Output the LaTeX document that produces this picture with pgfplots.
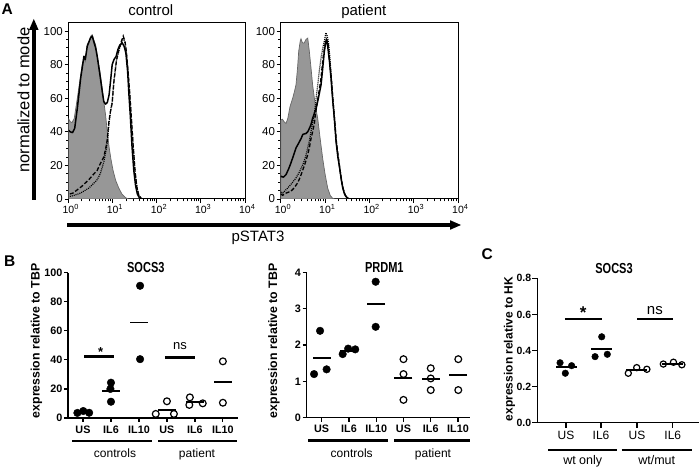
\documentclass[border=0pt]{standalone}
\usepackage{fontspec}
\setmainfont{Liberation Sans}
\newfontfamily\condfont[FakeStretch=0.76]{Liberation Sans}
\usepackage{pgfplots}
\pgfplotsset{compat=1.18}
\definecolor{hgray}{HTML}{979797}
\definecolor{hline}{HTML}{666666}
\newcommand{\fs}[1]{\fontsize{#1}{#1}\selectfont}
\newcommand{\tp}[1]{10\rlap{\textsuperscript{#1}}}
\pgfplotsset{
  histax/.style={scale only axis, anchor=south west, width=176.5pt, height=176pt,
    xmin=0, xmax=4, ymin=0, ymax=104.8,
    axis line style={line width=1pt},
    tick style={black, line width=0.8pt}, tick align=outside, tick pos=left,
    major tick length=4pt, minor tick length=2.5pt,
    xtick={0,1,2,3,4},
    xticklabels={\tp{0},\tp{1},\tp{2},\tp{3},\tp{4}},
    minor xtick={0.301,0.477,0.602,0.699,0.778,0.845,0.903,0.954,
                 1.301,1.477,1.602,1.699,1.778,1.845,1.903,1.954,
                 2.301,2.477,2.602,2.699,2.778,2.845,2.903,2.954,
                 3.301,3.477,3.602,3.699,3.778,3.845,3.903,3.954},
    ytick={0,20,40,60,80,100}, yticklabels={0,20,40,60,80,100},
    minor ytick={5,10,15,25,30,35,45,50,55,65,70,75,85,90,95},
    xticklabel style={font=\fs{10.5}, inner sep=1.5pt},
    yticklabel style={font=\fs{11.5}, inner sep=1.5pt},
  },
  solidh/.style={black, line width=1.5pt, line join=round},
  dashh/.style={black, line width=1.3pt, dash pattern=on 4pt off 2pt},
  doth/.style={black, line width=1.2pt, dash pattern=on 1pt off 1pt},
  grayh/.style={fill=hgray, draw=hline, line width=0.7pt},
  dotax/.style={scale only axis, anchor=south west, axis x line=bottom, axis y line=left,
    axis line style={line width=1.4pt, -}, tick style={black, line width=1.2pt},
    tick align=outside, major tick length=4pt, clip=false,
    yticklabel style={font=\bfseries\fs{10.8}, inner sep=1.5pt},
  },
  fdot/.style={only marks, mark=*, mark size=3.8pt, mark options={fill=black, draw=black, line width=0.4pt}},
  odot/.style={only marks, mark=*, mark size=3.4pt, mark options={fill=white, draw=black, line width=1.2pt}},
  mean/.style={only marks, black, mark=-, mark size=9pt, mark options={line width=1.6pt}},
}
\begin{document}
\begin{tikzpicture}
\path[use as bounding box] (0,0) rectangle (700pt,470pt);

% ---------- Panel A: control ----------
\begin{axis}[histax, at={(68.5pt,271pt)}]
\addplot[grayh] coordinates {(0,48)(0.04,46)(0.08,45.5)(0.13,48)(0.2,60)(0.276,74)(0.31,80)(0.35,84)(0.38,82)(0.425,92)(0.47,94)(0.5,96.8)(0.538,97.8)(0.57,95)(0.615,91.8)(0.65,86)(0.712,76)(0.765,66)(0.80,58)(0.84,50)(0.88,40)(0.92,31)(0.96,24)(1.01,17)(1.07,11)(1.14,6.5)(1.21,3)(1.29,0.8)(1.36,0)(4,0)} \closedcycle;
\addplot[doth] coordinates {(0.03,1.5)(0.1,2)(0.2,2.8)(0.28,3.6)(0.46,6.5)(0.56,9)(0.65,11.5)(0.72,15)(0.80,22)(0.85,29)(0.88,34)(0.915,44)(0.95,52)(0.99,58)(1.03,71)(1.09,83)(1.16,90)(1.2,93)(1.24,96)(1.28,93)(1.31,88)(1.35,76)(1.39,62)(1.43,46)(1.47,30)(1.51,16)(1.55,7)(1.59,2.5)(1.64,0.5)(1.68,0)(4,0)};
\addplot[dashh] coordinates {(0.03,3)(0.1,3.5)(0.2,5.5)(0.3,7.5)(0.46,11.5)(0.56,14.5)(0.65,17)(0.72,21)(0.80,25)(0.85,31)(0.877,35)(0.915,46)(0.95,52)(0.99,57)(1.03,70)(1.09,83)(1.16,90.7)(1.2,94)(1.24,97)(1.28,94)(1.31,88)(1.35,76)(1.39,62)(1.43,46)(1.47,30)(1.51,16)(1.55,7)(1.59,2.5)(1.64,0.5)(1.68,0)(4,0)};
\addplot[solidh] coordinates {(0,41)(0.04,40)(0.09,39.5)(0.14,42)(0.2,54)(0.276,72)(0.31,78)(0.35,85)(0.38,83)(0.425,91)(0.47,94)(0.5,96)(0.538,97)(0.57,94)(0.615,90)(0.65,85)(0.712,74)(0.765,64)(0.80,58)(0.84,56.5)(0.88,57.5)(0.92,62)(0.96,72)(0.99,80)(1.03,83)(1.08,85)(1.12,89)(1.16,91.5)(1.216,93)(1.26,91)(1.30,87)(1.34,76)(1.37,62)(1.40,50)(1.44,31)(1.48,17)(1.52,8)(1.56,3)(1.60,1)(1.64,0)(4,0)};
\end{axis}

% ---------- Panel A: patient ----------
\begin{axis}[histax, at={(280.7pt,271pt)}, width=177.3pt]
\addplot[grayh] coordinates {(0,47)(0.04,47.5)(0.075,46)(0.12,45)(0.16,48)(0.21,55)(0.27,60)(0.31,64)(0.345,68)(0.38,78)(0.406,88)(0.44,94)(0.458,95.4)(0.49,93)(0.53,92.9)(0.57,95)(0.61,95.8)(0.646,88)(0.684,78)(0.72,68)(0.78,56)(0.835,48)(0.89,36)(0.948,24)(1.0,15)(1.06,6.5)(1.12,2)(1.17,0.5)(1.22,0)(4,0)} \closedcycle;
\addplot[doth] coordinates {(0,4)(0.045,3.6)(0.1,5)(0.195,7.6)(0.27,10)(0.345,12.5)(0.42,16)(0.5,20.4)(0.56,25)(0.61,30.4)(0.65,35)(0.684,40.3)(0.72,45)(0.76,51)(0.8,60)(0.835,68)(0.87,76)(0.91,84)(0.95,90)(0.985,94)(1.02,99)(1.05,97)(1.08,93)(1.11,84)(1.135,74)(1.17,62)(1.21,49)(1.25,35)(1.29,26)(1.33,18)(1.37,11)(1.41,6)(1.45,2.5)(1.49,1)(1.53,0)(4,0)};
\addplot[dashh] coordinates {(0,3)(0.045,2.2)(0.12,3.5)(0.23,4.6)(0.3,6.5)(0.38,9.5)(0.44,13)(0.5,17.4)(0.56,22)(0.61,26.4)(0.65,31)(0.684,36)(0.72,40)(0.76,45)(0.78,50)(0.84,60)(0.9,70)(0.96,85)(1.0,92)(1.03,95)(1.07,92)(1.1,83)(1.14,73)(1.18,58)(1.22,46)(1.26,33)(1.3,25)(1.34,17)(1.38,10)(1.42,5)(1.46,2)(1.5,0.7)(1.55,0)(4,0)};
\addplot[solidh] coordinates {(0,13)(0.01,13.5)(0.06,13)(0.12,14.5)(0.18,18)(0.23,21.4)(0.29,26)(0.345,30.4)(0.4,33)(0.46,36)(0.5,38.5)(0.57,39)(0.61,40)(0.646,42)(0.68,44)(0.72,48)(0.76,51)(0.8,54)(0.85,60)(0.91,68)(0.948,78)(0.985,88)(1.02,94)(1.04,95)(1.06,91)(1.1,82)(1.135,72)(1.17,60)(1.21,48)(1.25,34)(1.29,25)(1.33,18.5)(1.37,11)(1.4,6.5)(1.44,3)(1.47,1.6)(1.51,0.5)(1.55,0)(4,0)};
\end{axis}

% A decorations
\node[font=\bfseries\fs{15.5}, anchor=base west, inner sep=0] at (1.5pt,455pt) {A};
\node[font=\fs{15}, anchor=base, inner sep=0] at (150.8pt,454pt) {control};
\node[font=\fs{15}, anchor=base, inner sep=0] at (363.8pt,454pt) {patient};
\node[font=\fs{16.5}, rotate=90, anchor=base, inner sep=0] at (29.3pt,370pt) {normalized to mode};
\node[font=\fs{15}, anchor=base, inner sep=0] at (258pt,228pt) {pSTAT3};
\draw[line width=3.5pt] (67pt,245pt) -- (451pt,245pt);
\fill (450pt,249.8pt) -- (461pt,245pt) -- (450pt,240.2pt) -- cycle;
\draw[line width=3.5pt] (33.8pt,270pt) -- (33.8pt,441pt);
\fill (29pt,440pt) -- (33.8pt,451pt) -- (38.6pt,440pt) -- cycle;

% ---------- Panel B: SOCS3 ----------
\begin{axis}[dotax, at={(68pt,52pt)}, width=170pt, height=145.3pt,
  xmin=0.464, xmax=6.54, ymin=0, ymax=100,
  xtick={1,...,6}, xticklabels={US,IL6,IL10,US,IL6,IL10},
  xticklabel style={font=\bfseries\fs{10.8}},
  ytick={0,20,40,60,80,100}, yticklabels={0,20,40,60,80,100}]
\addplot[fdot] coordinates {(0.8,3.5)(1.01,4.8)(1.22,3.6)(2.0,24.3)(1.98,20)(2.0,11.2)(3.04,91)(3.04,40.5)};
\addplot[odot] coordinates {(3.6,2.8)(4.0,11.5)(4.25,2.8)(4.82,14.2)(4.8,9)(5.28,10.1)(6.0,39)(6.0,10.5)};
\addplot[mean] coordinates {(1,4)(2,18.5)(3,65.7)(4,5.7)(5,11.1)(6,24.7)};
\addplot[black, line width=3pt] coordinates {(1.05,42)(2.12,42)};
\addplot[black, line width=3pt] coordinates {(3.93,41.5)(5.0,41.5)};
\node[font=\bfseries\fs{13}, anchor=base, inner sep=0] at (1.63,42.4) {*};
\node[font=\fs{13}, anchor=base, inner sep=0] at (4.47,47.3) {ns};
\end{axis}

% ---------- Panel B: PRDM1 ----------
\begin{axis}[dotax, at={(306.7pt,52.3pt)}, width=163.3pt, height=145.4pt,
  xmin=0.45, xmax=6.44, ymin=0, ymax=4,
  xtick={1,...,6}, xticklabels={US,IL6,IL10,US,IL6,IL10},
  xticklabel style={font=\bfseries\fs{10.8}},
  ytick={0,1,2,3,4}, yticklabels={0,1,2,3,4}]
\addplot[fdot] coordinates {(0.72,1.2)(0.94,2.39)(1.18,1.33)(1.77,1.75)(1.97,1.9)(2.23,1.88)(2.98,3.74)(2.98,2.5)};
\addplot[odot] coordinates {(4.0,1.61)(4.0,1.2)(4.0,0.49)(5.0,1.36)(5.0,1.08)(5.0,0.76)(6.01,1.61)(6.01,0.76)};
\addplot[mean] coordinates {(1,1.64)(2,1.84)(3,3.12)(4,1.1)(5,1.07)(6,1.18)};
\end{axis}

% ---------- Panel C: SOCS3 ----------
\begin{axis}[dotax, at={(537.3pt,47.3pt)}, width=161.7pt, height=144.4pt,
  xmin=0.18, xmax=4.8, ymin=0, ymax=0.8,
  xtick={1,2,3.03,4.05}, xticklabels={US,IL6,US,IL6},
  xticklabel style={font=\fs{12}}, major tick length=5pt,
  ytick={0,0.2,0.4,0.6,0.8}, yticklabels={0.0,0.2,0.4,0.6,0.8},
  yticklabel style={font=\bfseries\fs{10.5}, inner sep=1pt}]
\addplot[fdot, mark size=3.3pt] coordinates {(0.83,0.332)(0.98,0.274)(1.16,0.316)(1.83,0.366)(2.02,0.476)(2.18,0.379)};
\addplot[odot, mark size=3.1pt] coordinates {(2.78,0.274)(3.02,0.305)(3.31,0.296)(3.78,0.325)(4.07,0.335)(4.31,0.321)};
\addplot[mean, mark size=10.5pt, mark options={line width=1.8pt}] coordinates {(1,0.307)(2,0.407)(3.0,0.292)(4.05,0.327)};
\addplot[black, line width=2.2pt] coordinates {(0.97,0.573)(2.02,0.573)};
\addplot[black, line width=2.2pt] coordinates {(3.03,0.573)(4.07,0.573)};
\node[font=\bfseries\fs{17}, anchor=base, inner sep=0] at (1.49,0.575) {*};
\node[font=\fs{15}, anchor=base, inner sep=0] at (3.54,0.597) {ns};
\end{axis}

% B / C decorations
\node[font=\bfseries\fs{15.5}, anchor=base west, inner sep=0] at (4pt,203.3pt) {B};
\node[font=\bfseries\fs{15.5}, anchor=base west, inner sep=0] at (481.5pt,210pt) {C};
\node[font=\condfont\bfseries\fs{14.5}, anchor=base, inner sep=0] at (145.8pt,197.3pt) {SOCS3};
\node[font=\condfont\bfseries\fs{14.5}, anchor=base, inner sep=0] at (384.3pt,197.3pt) {PRDM1};
\node[font=\condfont\bfseries\fs{14.5}, anchor=base, inner sep=0] at (614pt,196.7pt) {SOCS3};
\node[font=\bfseries\fs{12.3}, rotate=90, anchor=base, inner sep=0] at (39.5pt,129.2pt) {expression relative to TBP};
\node[font=\bfseries\fs{12.3}, rotate=90, anchor=base, inner sep=0] at (277pt,129.2pt) {expression relative to TBP};
\node[font=\bfseries\fs{12}, rotate=90, anchor=base, inner sep=0] at (512.5pt,121pt) {expression relative to HK};
\draw[line width=2.7pt] (72pt,29pt) -- (152pt,29pt);
\draw[line width=2.7pt] (158pt,29pt) -- (237pt,29pt);
\node[font=\fs{12}, anchor=base, inner sep=0] at (115pt,12pt) {controls};
\node[font=\fs{12}, anchor=base, inner sep=0] at (197pt,12pt) {patient};
\draw[line width=2.7pt] (308pt,29.3pt) -- (388pt,29.3pt);
\draw[line width=2.7pt] (394pt,29.3pt) -- (470pt,29.3pt);
\node[font=\fs{12}, anchor=base, inner sep=0] at (351.7pt,12.5pt) {controls};
\node[font=\fs{12}, anchor=base, inner sep=0] at (433pt,12.5pt) {patient};
\draw[line width=2.5pt] (548pt,20pt) -- (617pt,20pt);
\draw[line width=2.5pt] (621.7pt,20pt) -- (691.7pt,20pt);
\node[font=\fs{12.5}, anchor=base, inner sep=0] at (582.7pt,5pt) {wt only};
\node[font=\fs{12.5}, anchor=base, inner sep=0] at (656.7pt,5pt) {wt/mut};
\end{tikzpicture}
\end{document}
